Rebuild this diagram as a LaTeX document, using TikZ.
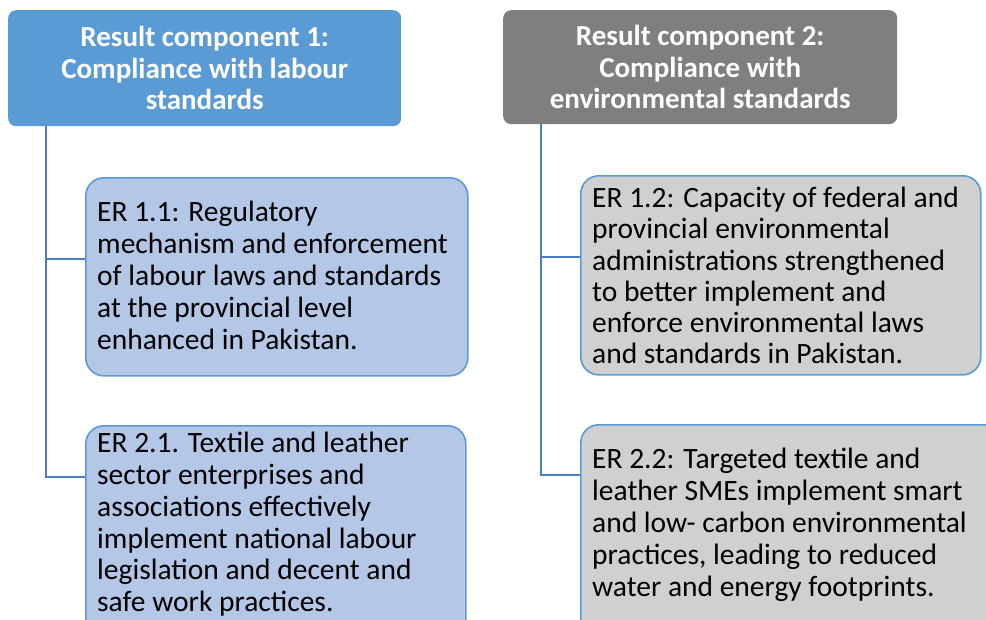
\documentclass[tikz,border=0pt]{standalone}
\usepackage{fontspec}
\setmainfont{Carlito}
\definecolor{hdrblue}{HTML}{5B9BD5}
\definecolor{hdrgray}{HTML}{7F7F7F}
\definecolor{lblue}{HTML}{B4C7E7}
\definecolor{lgray}{HTML}{D0D0D0}
\definecolor{edge}{HTML}{5B9BD5}
\definecolor{conncol}{HTML}{4A7EBB}
\tikzset{
  hdr/.style={rounded corners=8pt, inner sep=0pt, align=center, text=white,
    font=\fontsize{29}{31.5}\selectfont\bfseries, anchor=north west},
  erbox/.style={draw=edge, line width=1.6pt, rounded corners=18pt, inner sep=0pt, anchor=north west},
  ertxt/.style={inner sep=0pt, align=left, anchor=north west,
    font=\fontsize{29.5}{32}\selectfont},
  conn/.style={draw=conncol, line width=1.8pt}
}
\begin{document}
\begin{tikzpicture}[x=1pt,y=-1pt]
\useasboundingbox (0,0) rectangle (986,619);
\clip (0,0) rectangle (986,619);
% headers
\node[hdr, fill=hdrblue, minimum width=393pt, minimum height=116pt] (h1) at (8,10)
  {Result component 1:\\Compliance with labour\\standards};
\node[hdr, fill=hdrgray, minimum width=394pt, minimum height=114pt] (h2) at (503,10)
  {Result component 2:\\Compliance with\\environmental standards};
% boxes
\node[erbox, fill=lblue, minimum width=382pt, minimum height=198pt] (b11) at (85,177) {};
\node[erbox, fill=lblue, minimum width=380pt, minimum height=230pt] (b21) at (85,425) {};
\node[erbox, fill=lgray, minimum width=400pt, minimum height=199pt] (b12) at (580,175) {};
\node[erbox, fill=lgray, minimum width=430pt, minimum height=230pt] (b22) at (580,424) {};
% texts
\node[ertxt] (t11) at ([shift={(12,24)}]b11.north west)
  {ER 1.1: Regulatory\\mechanism and enforcement\\of labour laws and standards\\at the provincial level\\enhanced in Pakistan.};
\node[ertxt, font=\fontsize{29.5}{31.8}\selectfont] (t21) at ([shift={(12,7)}]b21.north west)
  {ER 2.1. Textile and leather\\sector enterprises and\\associations effectively\\implement national labour\\legislation and decent and\\safe work practices.};
\node[ertxt, font=\fontsize{29.5}{31.2}\selectfont] (t12) at ([shift={(12,12)}]b12.north west)
  {ER 1.2: Capacity of federal and\\provincial environmental\\administrations strengthened\\to better implement and\\enforce environmental laws\\and standards in Pakistan.};
\node[ertxt] (t22) at ([shift={(12,24)}]b22.north west)
  {ER 2.2: Targeted textile and\\leather SMEs implement smart\\and low- carbon environmental\\practices, leading to reduced\\water and energy footprints.};
% connectors
\coordinate (c11) at ([shift={(0,82)}]b11.north west);
\coordinate (c21) at ([shift={(0,52)}]b21.north west);
\coordinate (c12) at ([shift={(0,82)}]b12.north west);
\coordinate (c22) at ([shift={(0,51)}]b22.north west);
\draw[conn] ([xshift=38pt]h1.south west) |- (c21);
\draw[conn] ([xshift=38pt]h1.south west |- c11) -- (c11);
\draw[conn] ([xshift=38pt]h2.south west) |- (c22);
\draw[conn] ([xshift=38pt]h2.south west |- c12) -- (c12);
\end{tikzpicture}
\end{document}
